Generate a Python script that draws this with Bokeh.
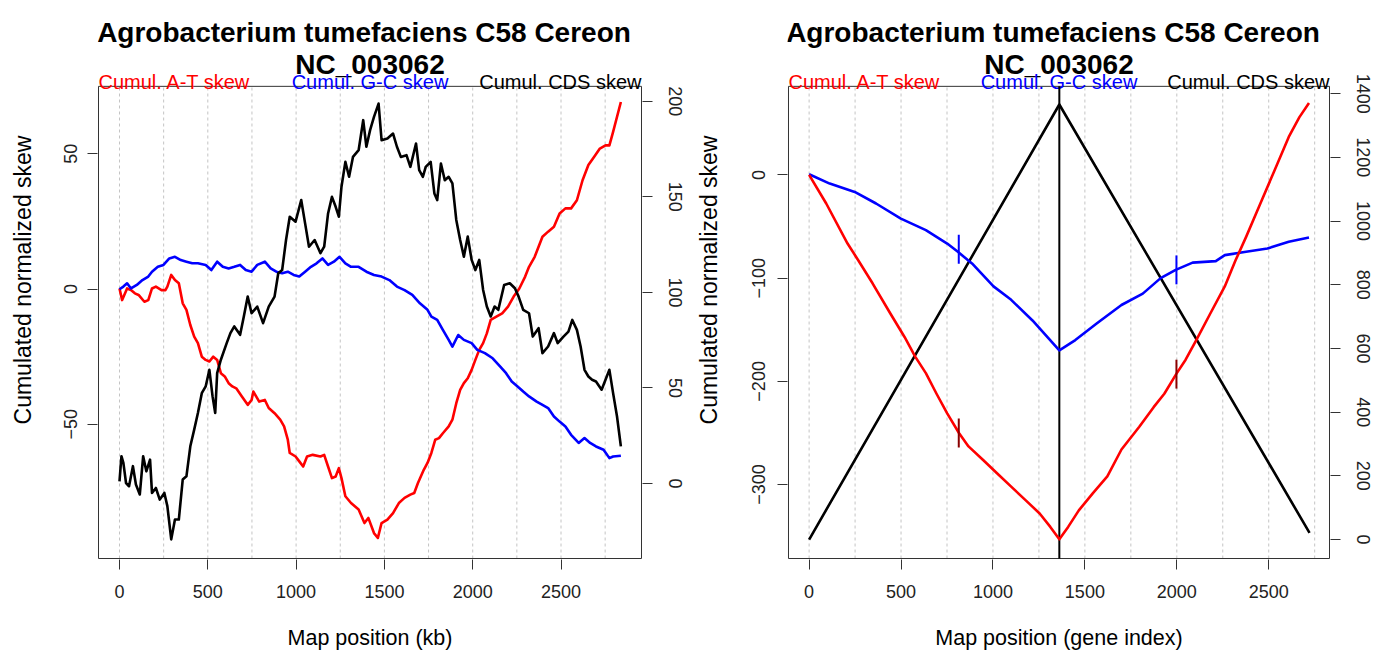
from bokeh.plotting import figure
from bokeh.models import Range1d, LinearAxis, FixedTicker
from bokeh.layouts import row
from bokeh.embed import file_html
from bokeh.resources import INLINE
from bokeh.core.properties import value

# ---------------- data ----------------
title_line1 = "Agrobacterium tumefaciens C58 Cereon"
title_line2 = "NC_003062"
legend_labels = ["Cumul. A-T skew", "Cumul. G-C skew", "Cumul. CDS skew"]
legend_colors = ["#ff0000", "#0000ff", "#000000"]
y_title = "Cumulated normalized skew"

x_ticks = [0, 500, 1000, 1500, 2000, 2500]
grid_ticks = [0, 250, 500, 750, 1000, 1250, 1500, 1750, 2000, 2250, 2500, 2750]
left_y_ticks = [-50, 0, 50]
left_y2_ticks = [0, 50, 100, 150, 200]
right_y_ticks = [-300, -200, -100, 0]
right_y2_ticks = [0, 200, 400, 600, 800, 1000, 1200, 1400]

# Left panel: map position (kb)
at_kb = [0, 15, 43, 65, 87, 108, 141, 163, 184, 206, 238, 260, 271, 293, 314, 336, 358, 379, 401,
         423, 444, 466, 488, 509, 531, 553, 574, 596, 618, 639, 661, 693, 726, 748, 758, 791, 823,
         845, 878, 910, 932, 953, 964, 997, 1018, 1040, 1062, 1094, 1138, 1159, 1181, 1203, 1224,
         1242, 1257, 1279, 1311, 1354, 1387, 1409, 1441, 1463, 1484, 1517, 1549, 1582, 1614, 1647,
         1669, 1690, 1723, 1744, 1766, 1788, 1809, 1831, 1864, 1885, 1907, 1929, 1950, 1972, 1994,
         2015, 2037, 2059, 2080, 2102, 2134, 2167, 2200, 2232, 2264, 2297, 2319, 2351, 2373, 2395,
         2427, 2460, 2492, 2525, 2557, 2590, 2622, 2655, 2687, 2720, 2752, 2774, 2795, 2839]
at_skew = [0.2, -4.1, 0.2, -0.4, -1.6, -2.2, -4.7, -4.1, 0.2, 0.9, -0.4, -0.4, 0.9, 5.2, 3.3, 2.1,
           -5.3, -7.7, -13.3, -17.6, -20.0, -25.0, -26.2, -26.8, -25.0, -26.2, -31.1, -32.3, -34.8,
           -36.0, -36.7, -39.7, -42.8, -41.0, -37.9, -41.6, -41.0, -44.0, -45.9, -48.3, -50.8, -55.7,
           -60.6, -61.9, -63.7, -65.6, -61.9, -61.3, -61.9, -61.3, -65.6, -69.9, -69.3, -66.2, -69.9,
           -76.6, -79.1, -81.5, -86.5, -84.6, -90.2, -92.0, -86.5, -85.2, -82.8, -79.1, -77.2, -76.0,
           -75.4, -71.7, -66.8, -64.3, -60.6, -55.7, -55.1, -53.3, -50.8, -48.3, -42.2, -37.3, -34.8,
           -33.0, -29.9, -26.2, -22.5, -20.0, -16.4, -11.4, -10.2, -9.0, -6.5, -2.8, 0.2, 4.6, 8.2,
           11.9, 15.6, 19.3, 21.2, 23.0, 27.9, 29.8, 29.8, 32.8, 40.2, 45.8, 48.8, 51.9, 53.1, 53.1,
           58.1, 69.1]

gc_kb = [0, 22, 43, 65, 98, 130, 163, 184, 217, 249, 282, 314, 347, 379, 412, 444, 488, 520, 553,
         585, 618, 650, 683, 715, 748, 780, 823, 856, 888, 921, 953, 986, 1018, 1051, 1084, 1116,
         1149, 1181, 1214, 1246, 1279, 1311, 1354, 1398, 1441, 1484, 1528, 1571, 1614, 1658, 1701,
         1744, 1766, 1799, 1831, 1864, 1885, 1918, 1950, 1994, 2026, 2069, 2113, 2156, 2189, 2221,
         2254, 2286, 2319, 2362, 2395, 2427, 2460, 2492, 2525, 2557, 2600, 2633, 2665, 2698, 2741,
         2774, 2795, 2839]
gc_skew = [-0.1, 0.9, 2.1, 0.2, 1.5, 3.3, 4.6, 6.4, 8.2, 8.9, 11.3, 11.9, 10.7, 10.1, 9.5, 9.5, 8.9,
           7.0, 10.1, 8.2, 7.6, 8.2, 8.9, 7.0, 6.4, 8.9, 10.1, 7.6, 6.4, 5.8, 6.4, 5.2, 4.6, 6.4, 8.2,
           9.5, 11.3, 8.9, 10.1, 11.9, 9.5, 8.2, 8.2, 6.4, 5.2, 4.6, 3.3, 0.9, -0.4, -2.2, -5.3, -7.7,
           -10.2, -11.4, -15.1, -18.8, -21.3, -17.0, -18.8, -20.0, -22.5, -23.7, -25.6, -28.7, -31.1,
           -34.2, -36.0, -37.9, -39.7, -41.6, -42.8, -44.0, -47.1, -49.0, -50.8, -53.9, -56.9, -55.1,
           -56.9, -58.2, -59.4, -62.5, -61.9, -61.6]

cds_kb = [0, 11, 22, 37, 54, 76, 93, 115, 134, 152, 173, 184, 206, 228, 254, 271, 293, 314, 336, 358,
          379, 401, 423, 444, 466, 488, 509, 527, 542, 553, 574, 607, 628, 650, 683, 704, 726, 748,
          780, 813, 845, 878, 899, 921, 943, 964, 997, 1029, 1051, 1073, 1105, 1138, 1159, 1181, 1203,
          1224, 1242, 1257, 1279, 1300, 1322, 1354, 1380, 1398, 1419, 1441, 1467, 1484, 1517, 1549,
          1571, 1593, 1625, 1647, 1679, 1697, 1718, 1734, 1762, 1783, 1799, 1820, 1842, 1864, 1885,
          1907, 1929, 1950, 1972, 1994, 2015, 2037, 2059, 2080, 2102, 2124, 2145, 2178, 2210, 2239,
          2260, 2286, 2319, 2340, 2373, 2395, 2427, 2460, 2481, 2514, 2542, 2564, 2590, 2611, 2633,
          2655, 2676, 2698, 2730, 2752, 2774, 2795, 2817, 2839]
cds_skew = [1.2, 14.3, 10.8, 0.3, -1.4, 9.1, -0.5, -5.7, 14.3, 6.4, 12.5, -4.9, -2.3, -8.4, -4.9,
            -11.8, -29.2, -18.8, -18.8, 2.1, 3.8, 19.5, 28.2, 36.9, 47.3, 50.8, 59.5, 45.6, 36.9, 57.8,
            64.8, 73.5, 78.7, 82.2, 77.8, 87.4, 97.8, 89.1, 92.6, 83.9, 92.6, 97.8, 110.0, 111.7, 127.4,
            139.6, 137.0, 148.3, 136.1, 123.9, 127.4, 120.5, 123.9, 141.3, 150.0, 144.8, 139.6, 155.3,
            168.3, 160.5, 170.9, 174.4, 190.1, 176.2, 184.9, 191.8, 198.8, 179.6, 180.5, 183.1, 176.2,
            170.9, 171.8, 165.7, 177.9, 164.0, 160.5, 165.7, 168.3, 151.8, 148.3, 167.4, 158.7, 160.5,
            157.0, 137.9, 127.4, 118.7, 129.2, 117.0, 111.7, 117.0, 101.3, 92.6, 87.4, 92.6, 90.9,
            103.9, 104.8, 102.2, 97.8, 90.9, 89.1, 76.9, 81.3, 68.2, 71.7, 78.7, 73.5, 76.9, 79.5, 85.6,
            80.4, 71.7, 59.5, 56.0, 54.3, 53.4, 49.1, 54.3, 59.5, 47.3, 35.2, 19.5]

# Right panel: map position (gene index)
at_gene = [0, 93, 209, 267, 345, 441, 519, 577, 635, 693, 751, 815, 867, 945, 1022, 1099, 1177, 1254,
           1312, 1361, 1409, 1467, 1545, 1622, 1699, 1796, 1874, 1932, 2000, 2048, 2106, 2183, 2261,
           2319, 2377, 2454, 2532, 2609, 2667, 2719]
at_gene_skew = [0, -27.7, -66.5, -82.6, -105, -134, -157, -176, -192, -212, -231, -250, -263, -276,
                -289, -302, -315, -328, -341, -353, -341, -325, -308, -292, -266, -244, -225, -212,
                -192, -179, -160, -134, -108, -83, -60, -28, 4.5, 36.8, 56, 69.7]
gc_gene = [0, 112, 248, 364, 499, 635, 751, 809, 886, 1003, 1099, 1215, 1361, 1448, 1564, 1699, 1815,
           1912, 1994, 2086, 2212, 2261, 2377, 2493, 2609, 2719]
gc_gene_skew = [0.6, -8.4, -16.5, -27.7, -42.3, -53.5, -66.5, -74.5, -85.8, -108, -121, -141, -170,
                -160, -144, -126, -115, -100, -92, -85, -83.5, -77.7, -74.5, -71.3, -64.8, -60.6]
cds_gene = [0, 1361, 2722]
cds_gene_skew = [0, 1366, 21]
terminus_gene = 1361

at_marks_gene = [814, 1998]
at_marks_skew = [-250, -193]
gc_marks_gene = [814, 1998]
gc_marks_skew = [-72, -92]
mark_half = 14

# ---------------- layout helpers ----------------
FONT = "Liberation Sans"
W, H = 692, 652
BOX_H = 473       # plot box height (px)
BOX_W = 543       # plot box width (px)
HEADER = 86       # space above the box (px)
PAD = 1           # frame is 1px larger than the box on left/right/bottom


def extend(lo, hi, n_px, below_px, above_px):
    s = (hi - lo) / n_px
    return lo - below_px * s, hi + above_px * s


def make_panel(box_x, box_y, box_y2, box_left_px, xlabel, yticks, y2ticks,
               lab_standoff, title_standoff):
    xr = extend(box_x[0], box_x[1], BOX_W, PAD, PAD)
    yr = extend(box_y[0], box_y[1], BOX_H, PAD, HEADER)
    y2r = extend(box_y2[0], box_y2[1], BOX_H, PAD, HEADER)
    b_left = box_left_px - PAD
    b_right = W - (box_left_px + BOX_W) - PAD
    b_bottom = H - HEADER - BOX_H - PAD
    p = figure(width=W, height=H, x_range=Range1d(*xr), y_range=Range1d(*yr),
               output_backend="svg", toolbar_location=None,
               min_border_left=b_left, min_border_right=b_right,
               min_border_top=0, min_border_bottom=b_bottom)
    p.extra_y_ranges = {"r": Range1d(*y2r)}
    p.add_layout(LinearAxis(y_range_name="r"), "right")
    p.background_fill_color = "white"
    p.border_fill_color = "white"
    p.outline_line_color = None
    p.xgrid.visible = False
    p.ygrid.visible = False

    for ax in p.axis:
        ax.axis_line_color = None
        ax.major_tick_out = 10
        ax.major_tick_in = 0
        ax.minor_tick_out = 0
        ax.minor_tick_in = 0
        ax.major_tick_line_color = "#333333"
        ax.major_label_text_font = FONT
        ax.major_label_text_font_size = "18px"
        ax.major_label_text_color = "#222222"
        ax.axis_label_text_font = FONT
        ax.axis_label_text_font_style = "normal"
        ax.axis_label_text_color = "black"

    p.xaxis.ticker = FixedTicker(ticks=x_ticks)
    p.xaxis.major_label_standoff = 15
    p.xaxis.axis_label = xlabel
    p.xaxis.axis_label_standoff = 25
    p.xaxis.axis_label_text_font_size = "21.5px"

    left_ax = p.left[0]
    left_ax.ticker = FixedTicker(ticks=yticks)
    left_ax.major_label_orientation = "vertical"
    left_ax.major_label_standoff = lab_standoff
    left_ax.axis_label = y_title
    left_ax.axis_label_standoff = title_standoff
    left_ax.axis_label_text_font_size = "23px"

    right_ax = p.right[0]
    right_ax.ticker = FixedTicker(ticks=y2ticks)
    right_ax.major_label_orientation = "vertical"
    right_ax.major_label_standoff = 16

    # dotted vertical grid limited to the plot box
    p.segment(x0=grid_ticks, y0=[box_y[0]] * len(grid_ticks), x1=grid_ticks,
              y1=[box_y[1]] * len(grid_ticks), line_color="#c4c4c4", line_dash="3 3",
              line_width=1)
    # plot box
    p.quad(left=[box_x[0]], right=[box_x[1]], bottom=[box_y[0]], top=[box_y[1]],
           fill_color=None, line_color="#333333", line_width=1)

    # header: title lines and coloured legend labels
    sy = (box_y[1] - box_y[0]) / BOX_H
    xc = (box_x[0] + box_x[1]) / 2
    p.text(x=[xc], y=[box_y[1] + 54 * sy], text=[title_line1], text_align="center",
           text_baseline="alphabetic", text_font=value(FONT), text_font_style="bold",
           text_font_size="28px", text_color="black", x_offset=-6)
    p.text(x=[xc], y=[box_y[1] + 22 * sy], text=[title_line2], text_align="center",
           text_baseline="alphabetic", text_font=value(FONT), text_font_style="bold",
           text_font_size="28px", text_color="black")
    xs = [box_x[0], xc, box_x[1]]
    aligns = ["left", "center", "right"]
    for t, c, x, a in zip(legend_labels, legend_colors, xs, aligns):
        p.text(x=[x], y=[box_y[1] + 4 * sy], text=[t], text_align=a,
               text_baseline="alphabetic", text_font=value(FONT),
               text_font_size="20px", text_color=c)
    return p


# ---------------- left panel ----------------
p1 = make_panel((-118.9, 2955.8), (-99.6, 74.9), (-39.2, 207.8), 98,
                "Map position (kb)", left_y_ticks, left_y2_ticks, 10, 26)
p1.line(at_kb, at_skew, line_color=legend_colors[0], line_width=2.6, line_join="round")
p1.line(gc_kb, gc_skew, line_color=legend_colors[1], line_width=2.6, line_join="round")
p1.line(cds_kb, cds_skew, line_color=legend_colors[2], line_width=2.6, line_join="round",
        y_range_name="r")

# ---------------- right panel (box starts 94px into the second figure) ----------------
R_box_y = (-371.6, 85.8)
p2 = make_panel((-112.2, 2830.6), R_box_y, (-59.5, 1423.0), 94,
                "Map position (gene index)", right_y_ticks, right_y2_ticks, 12, 28)
p2.segment(x0=[terminus_gene], y0=[R_box_y[0]], x1=[terminus_gene], y1=[R_box_y[1]],
           line_color="black", line_width=2)
p2.line(cds_gene, cds_gene_skew, line_color=legend_colors[2], line_width=2.6, line_join="round",
        y_range_name="r")
p2.line(gc_gene, gc_gene_skew, line_color=legend_colors[1], line_width=2.6, line_join="round")
p2.line(at_gene, at_gene_skew, line_color=legend_colors[0], line_width=2.6, line_join="round")
p2.segment(x0=gc_marks_gene, y0=[v - mark_half for v in gc_marks_skew],
           x1=gc_marks_gene, y1=[v + mark_half for v in gc_marks_skew],
           line_color="#0000ff", line_width=2)
p2.segment(x0=at_marks_gene, y0=[v - mark_half for v in at_marks_skew],
           x1=at_marks_gene, y1=[v + mark_half for v in at_marks_skew],
           line_color="#8b0000", line_width=2)

layout = row(p1, p2)
open("out.html", "w").write(file_html(layout, INLINE))
